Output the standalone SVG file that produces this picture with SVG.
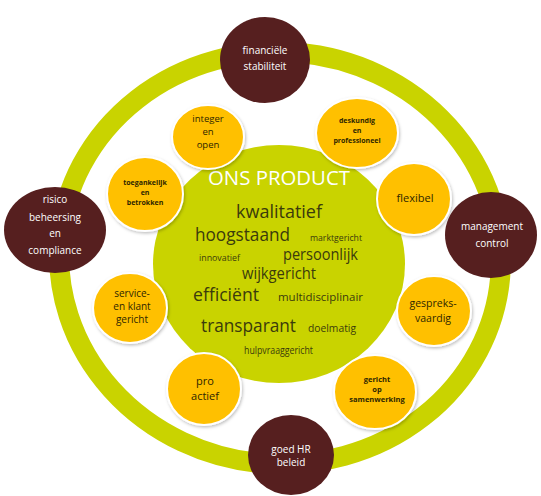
<svg xmlns="http://www.w3.org/2000/svg" width="541" height="496" viewBox="0 0 541 496">
<defs>
<filter id="sh" x="-20%" y="-20%" width="140%" height="140%">
<feDropShadow dx="1" dy="1.5" stdDeviation="1.5" flood-color="#000" flood-opacity="0.25"/>
</filter>
<style>
.ring{fill:none;stroke:#C9D300;stroke-width:20}
.core{fill:#C9D300}
.dark{fill:#561F1F}
.org{fill:#FFC000;stroke:#fff;stroke-width:2;filter:url(#sh)}
text{font-family:"Open Sans","Liberation Sans",sans-serif;text-anchor:middle}
.wt{fill:#fff;font-size:10px}
.ot{fill:#2E2600}
.cw{fill:#3B3B0C}
</style>
</defs>
<rect width="541" height="496" fill="#fff"/>
<g id="connectors">
<ellipse class="ring" cx="280" cy="258" rx="221" ry="206" transform="rotate(5 280 258)"/>
</g>
<g id="core">
<ellipse class="core" cx="279" cy="264" rx="126" ry="119"/>
<text x="279" y="185" fill="#fff" font-size="20" textLength="142" lengthAdjust="spacingAndGlyphs">ONS PRODUCT</text>
<text class="cw" x="279" y="218" font-size="18" textLength="86" lengthAdjust="spacingAndGlyphs">kwalitatief</text>
<text class="cw" x="242.5" y="241" font-size="19" textLength="95" lengthAdjust="spacingAndGlyphs">hoogstaand</text>
<text class="cw" x="336" y="241" font-size="9" textLength="52" lengthAdjust="spacingAndGlyphs">marktgericht</text>
<text class="cw" x="219.5" y="261" font-size="9" textLength="41" lengthAdjust="spacingAndGlyphs">innovatief</text>
<text class="cw" x="320.5" y="260" font-size="16" textLength="75" lengthAdjust="spacingAndGlyphs">persoonlijk</text>
<text class="cw" x="279" y="279" font-size="16" textLength="74" lengthAdjust="spacingAndGlyphs">wijkgericht</text>
<text class="cw" x="226" y="301" font-size="19" textLength="66" lengthAdjust="spacingAndGlyphs">efficiënt</text>
<text class="cw" x="320.5" y="301" font-size="11" textLength="85" lengthAdjust="spacingAndGlyphs">multidisciplinair</text>
<text class="cw" x="248.5" y="332" font-size="19" textLength="95" lengthAdjust="spacingAndGlyphs">transparant</text>
<text class="cw" x="332" y="332" font-size="11" textLength="48" lengthAdjust="spacingAndGlyphs">doelmatig</text>
<text class="cw" x="278.5" y="354" font-size="10" textLength="69" lengthAdjust="spacingAndGlyphs">hulpvraaggericht</text>
</g>
<g id="integer">
<ellipse class="org" cx="208" cy="137" rx="36" ry="32"/>
<text class="ot" x="208" y="122" font-size="9.5">integer</text>
<text class="ot" x="208" y="135" font-size="9.5">en</text>
<text class="ot" x="208" y="148" font-size="9.5">open</text>
</g>
<g id="deskundig">
<ellipse class="org" cx="357" cy="133" rx="41" ry="35"/>
<text class="ot" x="357" y="123" font-size="7" font-weight="bold">deskundig</text>
<text class="ot" x="357" y="133" font-size="7" font-weight="bold">en</text>
<text class="ot" x="357" y="143" font-size="7" font-weight="bold">professioneel</text>
</g>
<g id="flexibel">
<ellipse class="org" cx="414" cy="199" rx="37" ry="36"/>
<text class="ot" x="415" y="202" font-size="11">flexibel</text>
</g>
<g id="gespreks">
<ellipse class="org" cx="434" cy="311" rx="37" ry="35"/>
<text class="ot" x="433" y="307" font-size="10.5">gespreks-</text>
<text class="ot" x="433" y="322" font-size="10.5">vaardig</text>
</g>
<g id="samenwerking">
<ellipse class="org" cx="375" cy="392" rx="41" ry="37"/>
<text class="ot" x="377" y="382" font-size="7.5" font-weight="bold">gericht</text>
<text class="ot" x="377" y="392" font-size="7.5" font-weight="bold">op</text>
<text class="ot" x="377" y="402" font-size="7.5" font-weight="bold">samenwerking</text>
</g>
<g id="proactief">
<ellipse class="org" cx="204" cy="389" rx="37" ry="36"/>
<text class="ot" x="205" y="385" font-size="11">pro</text>
<text class="ot" x="205" y="400" font-size="11">actief</text>
</g>
<g id="service">
<ellipse class="org" cx="130" cy="308" rx="37" ry="35"/>
<text class="ot" x="132" y="297" font-size="10">service-</text>
<text class="ot" x="132" y="310" font-size="10">en klant</text>
<text class="ot" x="132" y="323" font-size="10">gericht</text>
</g>
<g id="toegankelijk">
<ellipse class="org" cx="145" cy="194" rx="38" ry="37"/>
<text class="ot" x="145" y="185" font-size="7" font-weight="bold">toegankelijk</text>
<text class="ot" x="145" y="195" font-size="7" font-weight="bold">en</text>
<text class="ot" x="145" y="205" font-size="7" font-weight="bold">betrokken</text>
</g>
<g id="financieel">
<ellipse class="dark" cx="265" cy="60" rx="45" ry="43"/>
<text class="wt" x="265" y="54">financiële</text>
<text class="wt" x="265" y="70">stabiliteit</text>
</g>
<g id="risico">
<ellipse class="dark" cx="55" cy="230" rx="51" ry="43"/>
<text class="wt" x="55" y="203">risico</text>
<text class="wt" x="55" y="221">beheersing</text>
<text class="wt" x="55" y="237">en</text>
<text class="wt" x="55" y="254">compliance</text>
</g>
<g id="management">
<ellipse class="dark" cx="491" cy="235" rx="46" ry="43"/>
<text class="wt" x="492" y="230">management</text>
<text class="wt" x="492" y="247">control</text>
</g>
<g id="hr">
<ellipse class="dark" cx="291" cy="455" rx="43" ry="40"/>
<text class="wt" x="291" y="453">goed HR</text>
<text class="wt" x="291" y="466">beleid</text>
</g>
</svg>
